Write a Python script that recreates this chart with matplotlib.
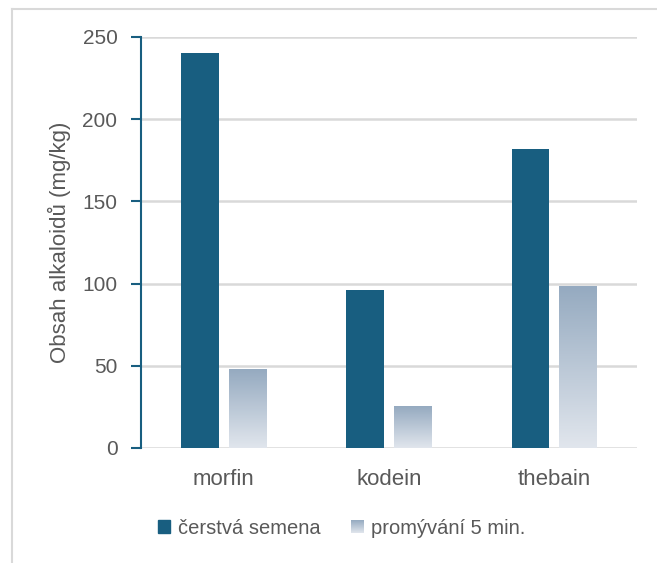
import numpy as np
import matplotlib
matplotlib.use("Agg")
from matplotlib import pyplot as plt
from matplotlib.patches import Patch
from matplotlib.lines import Line2D
from matplotlib.legend_handler import HandlerBase
from matplotlib.image import BboxImage
from matplotlib.transforms import Bbox, TransformedBbox

categories = ["morfin", "kodein", "thebain"]
fresh = [240, 96, 182]
washed = [48, 25, 98]
series_names = ["čerstvá semena", "promývání 5 min."]
yticks = [0, 50, 100, 150, 200, 250]

dark = "#185e80"
grad_top = "#95aac0"
grad_bot = "#e1e6ed"
txt = "#595959"
grid = "#d9d9d9"

plt.rcParams["font.family"] = ["Liberation Sans", "DejaVu Sans"]

cmap = matplotlib.colors.LinearSegmentedColormap.from_list("g", [grad_bot, grad_top])
grad = np.linspace(0, 1, 256).reshape(-1, 1)


class HandlerGrad(HandlerBase):
    # legend swatch with the same vertical gradient as the bars
    def create_artists(self, legend, orig_handle, xdescent, ydescent,
                       width, height, fontsize, trans):
        bb = Bbox.from_bounds(-xdescent, -ydescent, width, height)
        im = BboxImage(TransformedBbox(bb, trans), cmap=cmap,
                       interpolation="bilinear", origin="lower")
        im.set_data(grad)
        return [im]


fig = plt.figure(figsize=(6.57, 5.63), dpi=100)
ax = fig.add_axes([0.2146, 0.2043, 0.755, 0.73])

x = np.arange(len(categories))
w = 0.227
off = 0.144
ax.bar(x - off, fresh, width=w, color=dark, zorder=3)

for xi, v in zip(x, washed):
    ax.imshow(grad, cmap=cmap, origin="lower", aspect="auto", zorder=3,
              extent=[xi + off - w / 2, xi + off + w / 2, 0, v])

ax.set_xlim(-0.5, len(categories) - 0.5)
ax.set_ylim(0, 250)
ax.set_yticks(yticks)
ax.set_xticks(x)
ax.set_xticklabels(categories)
ax.yaxis.grid(True, color=grid, linewidth=1.8, zorder=0)
ax.set_axisbelow(True)

for s in ["top", "right", "bottom"]:
    ax.spines[s].set_visible(False)
ax.spines["left"].set_color(dark)
ax.spines["left"].set_linewidth(1.5)
ax.tick_params(axis="y", colors=dark, length=7, width=1.5, labelsize=15,
               labelcolor=txt, pad=10)
ax.tick_params(axis="x", length=0, labelsize=16, labelcolor=txt, pad=15)
ax.set_ylabel("Obsah alkaloidů (mg/kg)", fontsize=16, color=txt, labelpad=8)

handles = [Patch(color=dark), Patch(color=grad_top)]
leg = fig.legend(handles, series_names, loc="center",
                 bbox_to_anchor=(342 / 657, 1 - 528 / 563),
                 ncol=2, frameon=False, fontsize=14.5, labelcolor=txt,
                 handlelength=0.6, handleheight=0.6, handletextpad=0.4,
                 columnspacing=1.5,
                 handler_map={handles[1]: HandlerGrad()})

# outer border of the original chart frame
fig.add_artist(Line2D([12 / 657, 12 / 657], [0, 1 - 9 / 563],
                      transform=fig.transFigure, color=grid, linewidth=1.5))
fig.add_artist(Line2D([12 / 657, 1], [1 - 9 / 563, 1 - 9 / 563],
                      transform=fig.transFigure, color=grid, linewidth=1.5))

fig.savefig("out.png", dpi=100)
